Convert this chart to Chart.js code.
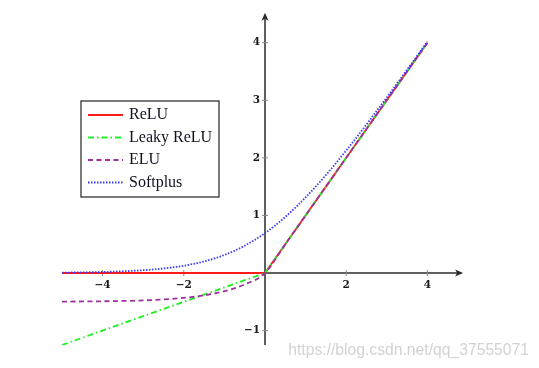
<!DOCTYPE html>
<html>
<head>
<meta charset="utf-8">
<script src="https://cdn.jsdelivr.net/npm/chart.js@4.4.0/dist/chart.umd.min.js"></script>
<style>
  html, body { margin: 0; padding: 0; background: #fff; }
  #wrap { position: relative; width: 539px; height: 368px; }
</style>
</head>
<body>
<div id="wrap"><canvas id="grafico" width="539" height="368"></canvas></div>
<script>
// valores
const xs = [-5, -4.5, -4, -3.5, -3, -2.5, -2, -1.5, -1, -0.5, 0, 0.5, 1, 1.5, 2, 2.5, 3, 3.5, 4];
const relu = [0, 0, 0, 0, 0, 0, 0, 0, 0, 0, 0, 0.5, 1, 1.5, 2, 2.5, 3, 3.5, 4];
const leaky = [-1.25, -1.125, -1, -0.875, -0.75, -0.625, -0.5, -0.375, -0.25, -0.125, 0, 0.5, 1, 1.5, 2, 2.5, 3, 3.5, 4];
const elu = [-0.497, -0.494, -0.491, -0.485, -0.475, -0.459, -0.432, -0.388, -0.316, -0.197, 0, 0.5, 1, 1.5, 2, 2.5, 3, 3.5, 4];
const softplus = [0.007, 0.011, 0.018, 0.03, 0.049, 0.079, 0.127, 0.201, 0.313, 0.474, 0.693, 0.974, 1.313, 1.701, 2.127, 2.579, 3.049, 3.53, 4.018];
const labels = ['ReLU', 'Leaky ReLU', 'ELU', 'Softplus'];
const xTicks = [-4, -2, 2, 4];
const yTicks = [-1, 1, 2, 3, 4];

function pontos(ys) {
    return xs.map((x, i) => ({ x: x, y: ys[i] }));
}

const eixos = {
    id: 'eixos',
    beforeDatasetsDraw(chart) {
        const ctx = chart.ctx;
        const sx = chart.scales.x, sy = chart.scales.y;
        const x0 = sx.getPixelForValue(0), y0 = sy.getPixelForValue(0);
        ctx.save();
        ctx.strokeStyle = '#2a2a2a';
        ctx.fillStyle = '#2a2a2a';
        ctx.lineWidth = 1.5;
        // eixo x
        const xl = sx.getPixelForValue(-5), xr = sx.getPixelForValue(4.88);
        ctx.beginPath(); ctx.moveTo(xl, y0); ctx.lineTo(xr - 4, y0); ctx.stroke();
        ctx.beginPath(); ctx.moveTo(xr, y0); ctx.lineTo(xr - 8, y0 - 3.5); ctx.lineTo(xr - 6, y0); ctx.lineTo(xr - 8, y0 + 3.5); ctx.closePath(); ctx.fill();
        // eixo y
        const yb = sy.getPixelForValue(-1.25), yt = sy.getPixelForValue(4.52);
        ctx.beginPath(); ctx.moveTo(x0, yb); ctx.lineTo(x0, yt + 4); ctx.stroke();
        ctx.beginPath(); ctx.moveTo(x0, yt); ctx.lineTo(x0 - 3.5, yt + 8); ctx.lineTo(x0, yt + 6); ctx.lineTo(x0 + 3.5, yt + 8); ctx.closePath(); ctx.fill();
        // marcas e rotulos
        ctx.strokeStyle = '#888';
        ctx.lineWidth = 1;
        ctx.fillStyle = '#1a1a1a';
        ctx.font = 'bold 10.5px "DejaVu Serif", serif';
        ctx.textAlign = 'center';
        ctx.textBaseline = 'middle';
        xTicks.forEach(v => {
            const px = sx.getPixelForValue(v);
            ctx.beginPath(); ctx.moveTo(px, y0 - 3); ctx.lineTo(px, y0 + 3); ctx.stroke();
            ctx.fillText(v < 0 ? '\u2212' + Math.abs(v) : String(v), px, y0 + 12);
        });
        ctx.textAlign = 'right';
        yTicks.forEach(v => {
            const py = sy.getPixelForValue(v);
            ctx.beginPath(); ctx.moveTo(x0 - 3, py); ctx.lineTo(x0 + 3, py); ctx.stroke();
            ctx.fillText(v < 0 ? '\u2212' + Math.abs(v) : String(v), x0 - 5, py);
        });
        ctx.restore();
    },
    afterDraw(chart) {
        const ctx = chart.ctx;
        ctx.save();
        // legenda
        const bx = 81, by = 101, bw = 138, bh = 96;
        ctx.fillStyle = '#fff';
        ctx.fillRect(bx, by, bw, bh);
        ctx.strokeStyle = '#333';
        ctx.lineWidth = 1.3;
        ctx.strokeRect(bx, by, bw, bh);
        ctx.font = '16px "Liberation Serif", "DejaVu Serif", serif';
        ctx.textAlign = 'left';
        ctx.textBaseline = 'middle';
        chart.data.datasets.forEach((ds, i) => {
            const yy = by + 14 + i * 22.5;
            ctx.strokeStyle = ds.borderColor;
            ctx.lineWidth = ds.borderWidth;
            ctx.setLineDash(ds.borderDash || []);
            ctx.beginPath(); ctx.moveTo(88, yy); ctx.lineTo(123, yy); ctx.stroke();
            ctx.setLineDash([]);
            ctx.fillStyle = '#111122';
            ctx.fillText(ds.label, 129, yy);
        });
        // marca d'agua
        ctx.fillStyle = 'rgba(205,205,205,0.9)';
        ctx.font = '15.7px "Liberation Sans", Arial, sans-serif';
        ctx.textAlign = 'right';
        ctx.textBaseline = 'alphabetic';
        ctx.fillText('https://blog.csdn.net/qq_37555071', 529, 355);
        ctx.restore();
    }
};

new Chart(document.getElementById('grafico'), {
    type: 'line',
    data: {
        datasets: [
            { label: labels[0], data: pontos(relu), borderColor: '#ff1a1a', borderWidth: 1.8, pointRadius: 0, tension: 0, order: 4 },
            { label: labels[1], data: pontos(leaky), borderColor: '#22ee22', borderWidth: 1.8, borderDash: [6, 3, 1.5, 3], pointRadius: 0, tension: 0, order: 3 },
            { label: labels[2], data: pontos(elu), borderColor: '#a030a0', borderWidth: 1.8, borderDash: [5, 3.5], pointRadius: 0, cubicInterpolationMode: 'monotone', order: 2 },
            { label: labels[3], data: pontos(softplus), borderColor: '#3838ff', borderWidth: 1.8, borderDash: [1.5, 1.5], pointRadius: 0, cubicInterpolationMode: 'monotone', order: 1 }
        ]
    },
    options: {
        responsive: false,
        animation: false,
        layout: { padding: { left: 62, right: 71, top: 11, bottom: 23 } },
        plugins: { legend: { display: false }, tooltip: { enabled: false } },
        scales: {
            x: { type: 'linear', min: -5, max: 5, display: false },
            y: { type: 'linear', min: -1.25, max: 4.55, display: false }
        }
    },
    plugins: [eixos]
});
</script>
</body>
</html>
